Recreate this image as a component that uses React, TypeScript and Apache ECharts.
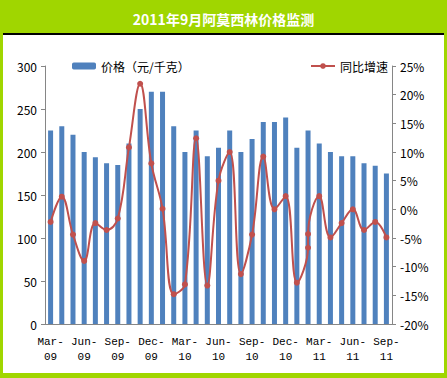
import React, { useEffect, useRef } from "react";
import * as echarts from "echarts";

const months = [
  "Mar-09", "Apr-09", "May-09", "Jun-09", "Jul-09", "Aug-09", "Sep-09", "Oct-09", "Nov-09", "Dec-09",
  "Jan-10", "Feb-10", "Mar-10", "Apr-10", "May-10", "Jun-10", "Jul-10", "Aug-10", "Sep-10", "Oct-10",
  "Nov-10", "Dec-10", "Jan-11", "Feb-11", "Mar-11", "Apr-11", "May-11", "Jun-11", "Jul-11", "Aug-11", "Sep-11",
];

const prices = [
  225, 230, 220, 200, 194, 187, 185, 210, 250, 270,
  270, 230, 200, 225, 195, 205, 225, 200, 215, 235,
  235, 240, 205, 225, 210, 200, 195, 195, 187, 184, 175,
];

// year-on-year growth (%): Feb-11 has two readings
const yoyMonths = [
  "Mar-09", "Apr-09", "May-09", "Jun-09", "Jul-09", "Aug-09", "Sep-09", "Oct-09", "Nov-09", "Dec-09",
  "Jan-10", "Feb-10", "Mar-10", "Apr-10", "May-10", "Jun-10", "Jul-10", "Aug-10", "Sep-10", "Oct-10",
  "Nov-10", "Dec-10", "Jan-11", "Feb-11", "Feb-11", "Mar-11", "Apr-11", "May-11", "Jun-11", "Jul-11", "Aug-11", "Sep-11",
];
const yoyValues = [
  -2.2, 2.2, -4.4, -9.0, -2.4, -3.6, -1.6, 10.8, 21.9, 8.0,
  0.1, -14.8, -13.1, 12.4, -13.3, 5.0, 10.0, -11.3, -4.4, 9.2,
  0, 2.3, -12.8, -6.7, -4.3, 2.3, -4.9, -2.4, 0, -3.6, -2.2, -4.9,
];

const title = "2011年9月阿莫西林价格监测";
const priceName = "价格（元/千克）";
const yoyName = "同比增速";

const GREEN = "#a0d600";
const FONT = "'Noto Sans CJK SC', 'Liberation Sans', sans-serif";

export default function App() {
  const ref = useRef<HTMLDivElement>(null);
  useEffect(() => {
    if (!ref.current) return;
    const chart = echarts.init(ref.current, null, { renderer: "svg" });
    chart.setOption({
      animation: false,
      textStyle: { fontFamily: FONT },
      title: {
        text: title,
        left: "center",
        top: 12,
        padding: 0,
        textStyle: { color: "#ffffff", fontSize: 14, fontWeight: "bold", fontFamily: FONT },
      },
      legend: [
        {
          data: [priceName],
          left: 72,
          top: 60,
          itemWidth: 24,
          itemHeight: 7,
          padding: 0,
          textStyle: { fontSize: 12, color: "#000", fontFamily: FONT },
        },
        {
          data: [yoyName],
          left: 310,
          top: 60,
          itemWidth: 24,
          itemHeight: 7,
          padding: 0,
          textStyle: { fontSize: 12, color: "#000", fontFamily: FONT },
        },
      ],
      grid: { left: 45, right: 55, top: 66, bottom: 54 },
      xAxis: {
        type: "category",
        data: months,
        boundaryGap: true,
        axisLine: { lineStyle: { color: "#868686" } },
        axisTick: { interval: 2, length: 4, lineStyle: { color: "#868686" } },
        axisLabel: {
          interval: 2,
          margin: 10,
          fontSize: 11,
          lineHeight: 15,
          color: "#000",
          fontFamily: "'Liberation Mono', monospace",
          formatter: (v: string) => v.replace("-", "-\n"),
        },
        splitLine: { show: false },
      },
      yAxis: [
        {
          type: "value",
          min: 0,
          max: 300,
          interval: 50,
          axisLine: { show: true, lineStyle: { color: "#868686" } },
          axisTick: { show: true, length: 4, lineStyle: { color: "#868686" } },
          axisLabel: { fontSize: 12, color: "#000", margin: 8, fontFamily: FONT },
          splitLine: { show: false },
        },
        {
          type: "value",
          min: -20,
          max: 25,
          interval: 5,
          position: "right",
          axisLine: { show: true, lineStyle: { color: "#868686" } },
          axisTick: { show: true, length: 4, lineStyle: { color: "#868686" } },
          axisLabel: { fontSize: 12, color: "#000", margin: 8, formatter: "{value}%", fontFamily: FONT },
          splitLine: { show: false },
        },
      ],
      series: [
        {
          name: priceName,
          type: "bar",
          data: prices,
          barWidth: 5,
          itemStyle: { color: "#4f81bd" },
        },
        {
          name: yoyName,
          type: "line",
          yAxisIndex: 1,
          data: yoyMonths.map((m, i) => [m, yoyValues[i]]),
          smooth: 0.4,
          symbol: "circle",
          symbolSize: 6,
          lineStyle: { color: "#c0504d", width: 2 },
          itemStyle: { color: "#c0504d" },
        },
      ],
    });
    return () => chart.dispose();
  }, []);

  return (
    <div style={{ position: "absolute", left: 0, top: 0, width: 447, height: 378, background: GREEN }}>
      <div style={{ position: "absolute", left: 3, top: 35, width: 441, height: 338, background: "#ffffff" }} />
      <div style={{ position: "absolute", left: 3, top: 33, width: 441, height: 2, background: "#000000" }} />
      <div ref={ref} style={{ position: "absolute", left: 0, top: 0, width: 447, height: 378 }} />
    </div>
  );
}
